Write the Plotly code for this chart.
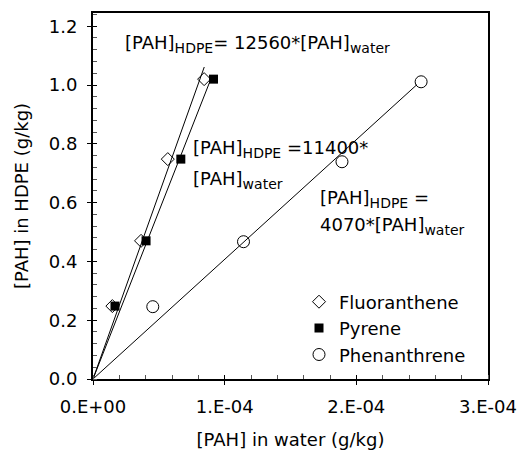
import plotly.graph_objects as go

# ---- data ----
series_names = ["Fluoranthene", "Pyrene", "Phenanthrene"]
fluor_x = [1.47e-5, 3.65e-5, 5.68e-5, 8.44e-5]
fluor_y = [0.248, 0.470, 0.748, 1.020]
pyrene_x = [1.67e-5, 4.03e-5, 6.67e-5, 9.15e-5]
pyrene_y = [0.248, 0.470, 0.748, 1.020]
phen_x = [4.54e-5, 1.143e-4, 1.891e-4, 2.492e-4]
phen_y = [0.246, 0.467, 0.739, 1.011]

# fitted partition coefficients and extent of the drawn fit lines
fit_slopes = [12560, 11400, 4070]
fit_x_end = [8.45e-5, 8.95e-5, 2.46e-4]

x_tickvals = [0, 1e-4, 2e-4, 3e-4]
x_ticktext = ["0.E+00", "1.E-04", "2.E-04", "3.E-04"]
y_tickvals = [0.0, 0.2, 0.4, 0.6, 0.8, 1.0, 1.2]
y_ticktext = ["0.0", "0.2", "0.4", "0.6", "0.8", "1.0", "1.2"]

FONT = "DejaVu Sans, Liberation Sans, Arial, sans-serif"
FS = 18

# page body has an 8px default margin: plot area lands at x 93..488, y 13..379
OFF = 8
L, T, PW, PH = 93, 13, 395, 366
W, H = 525 - OFF, 452 - OFF

fig = go.Figure()

# fit lines
for slope, xend in zip(fit_slopes, fit_x_end):
    xs = [0.0, xend]
    fig.add_trace(go.Scatter(x=xs, y=[slope * v for v in xs], mode="lines",
                             line=dict(color="black", width=1),
                             showlegend=False, hoverinfo="skip"))

# data markers
fig.add_trace(go.Scatter(x=fluor_x, y=fluor_y, mode="markers", name=series_names[0],
                         marker=dict(symbol="diamond-open", size=10, color="black",
                                     line=dict(width=1, color="black"))))
fig.add_trace(go.Scatter(x=pyrene_x, y=pyrene_y, mode="markers", name=series_names[1],
                         marker=dict(symbol="square", size=9, color="black",
                                     line=dict(width=0))))
fig.add_trace(go.Scatter(x=phen_x, y=phen_y, mode="markers", name=series_names[2],
                         marker=dict(symbol="circle-open", size=12, color="black",
                                     line=dict(width=1, color="black"))))

# invisible trace to host the overlay axes used for the inner half of major ticks
fig.add_trace(go.Scatter(x=[0], y=[0], xaxis="x2", yaxis="y2", mode="markers",
                         marker=dict(opacity=0), showlegend=False, hoverinfo="skip"))

XR = [0, 3e-4]
YR = [0, 1.245]

fig.update_layout(
    width=W, height=H,
    margin=dict(l=L - OFF, r=W - (L - OFF) - PW, t=T - OFF, b=H - (T - OFF) - PH,
                autoexpand=False),
    paper_bgcolor="white", plot_bgcolor="white",
    font=dict(family=FONT, size=FS, color="black"),
    showlegend=True,
    legend=dict(x=(299 - L) / PW, y=(379 - 283.5) / PH, xanchor="left", yanchor="top",
                bgcolor="rgba(0,0,0,0)", borderwidth=0, itemwidth=30,
                font=dict(family=FONT, size=FS), tracegroupgap=0),
    xaxis=dict(range=XR, showgrid=False, zeroline=False, automargin=False,
               showline=True, linecolor="black", linewidth=2, mirror=True,
               tickvals=x_tickvals, ticktext=x_ticktext,
               ticks="outside", ticklen=4, tickwidth=1, tickcolor="black",
               ticklabelstandoff=6,
               minor=dict(ticks="inside", ticklen=4, tickwidth=1, tickcolor="#555",
                          dtick=2e-5, tick0=0),
               title=dict(text="[PAH] in water (g/kg)", font=dict(size=FS), standoff=18),
               tickfont=dict(size=FS)),
    yaxis=dict(range=YR, showgrid=False, zeroline=False, automargin=False,
               showline=True, linecolor="black", linewidth=2, mirror=True,
               tickvals=y_tickvals, ticktext=y_ticktext,
               ticks="outside", ticklen=4, tickwidth=1, tickcolor="black",
               ticklabelstandoff=6,
               minor=dict(ticks="inside", ticklen=4, tickwidth=1, tickcolor="#555",
                          dtick=0.04, tick0=0),
               title=dict(text="[PAH] in HDPE (g/kg)", font=dict(size=FS), standoff=15),
               tickfont=dict(size=FS)),
    xaxis2=dict(range=XR, overlaying="x", anchor="y", side="bottom", automargin=False,
                showgrid=False, zeroline=False, showline=False,
                tickvals=x_tickvals, showticklabels=False,
                ticks="inside", ticklen=4, tickwidth=1, tickcolor="black"),
    yaxis2=dict(range=YR, overlaying="y", anchor="x", side="left", automargin=False,
                showgrid=False, zeroline=False, showline=False,
                tickvals=y_tickvals, showticklabels=False,
                ticks="inside", ticklen=4, tickwidth=1, tickcolor="black"),
)

def px_to_paper(xp, yp):
    return (xp - L) / PW, (T + PH - yp) / PH

SUB_HDPE = "<sub><span style='font-size:14px'>HDPE</span></sub>"
SUB_WATER = "<sub><span style='font-size:14px'>water</span></sub>"

annots = [
    ("[PAH]" + SUB_HDPE + "= 12560*[PAH]" + SUB_WATER, 123, 44),
    ("[PAH]" + SUB_HDPE + " =11400*", 191, 149),
    ("[PAH]" + SUB_WATER, 191, 180),
    ("[PAH]" + SUB_HDPE + " =", 318, 198.5),
    ("4070*[PAH]" + SUB_WATER, 318, 225.5),
]
for text, xp, yp in annots:
    ax, ay = px_to_paper(xp, yp)
    fig.add_annotation(text=text, x=ax, y=ay, xref="paper", yref="paper",
                       xanchor="left", yanchor="middle", showarrow=False,
                       font=dict(family=FONT, size=FS, color="black"))

fig.write_html("out.html")
